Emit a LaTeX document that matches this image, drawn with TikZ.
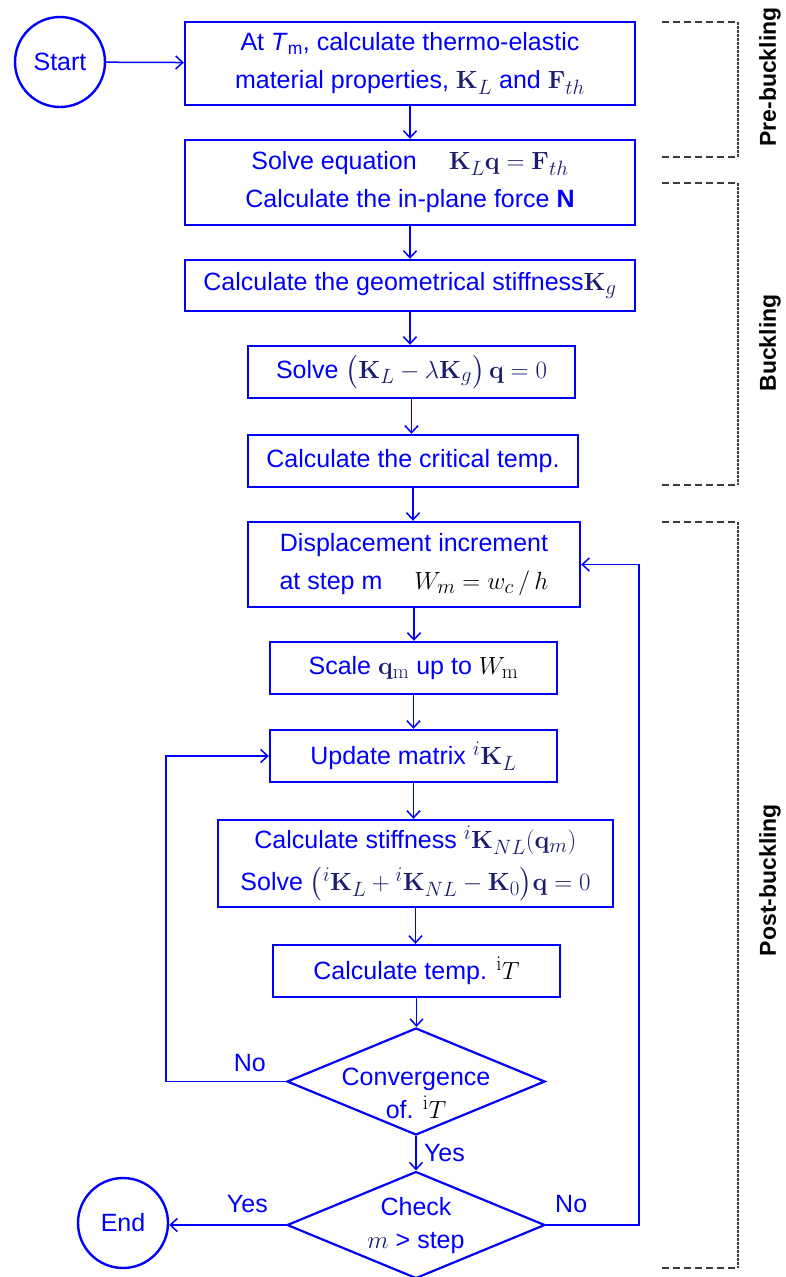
\documentclass[tikz,border=0pt]{standalone}
\usepackage{amsmath,amssymb}
\usepackage[no-math]{fontspec}
\setmainfont{Liberation Sans}
\usepackage{tikz}
\usetikzlibrary{arrows.meta, positioning, calc, shapes}
\usepackage{xcolor}
\definecolor{flowblue}{RGB}{0,0,250}
\definecolor{mathnavy}{RGB}{28,28,110}
\definecolor{phasegray}{RGB}{60,60,60}
% math pieces of the flowchart
\newcommand{\mK}{\mathbf{K}}
\newcommand{\eqn}[1]{{\fontsize{28}{38}\selectfont\textcolor{mathnavy}{$#1$}}}
\newcommand{\eqb}[1]{{\fontsize{28}{38}\selectfont\textcolor{black}{$#1$}}}
\newcommand{\dtext}[1]{\makebox[0pt]{\begin{tabular}{@{}c@{}}#1\end{tabular}}}

\begin{document}
\begin{tikzpicture}[x=1pt, y=-1pt, font=\fontsize{25}{38}\selectfont,
  box/.style={draw=flowblue, line width=2.4pt, text=flowblue, align=center, inner sep=0pt},
  term/.style={circle, draw=flowblue, line width=2.4pt, text=flowblue, minimum size=90pt, inner sep=0pt},
  decide/.style={diamond, draw=flowblue, line width=2.2pt, text=flowblue, minimum width=258pt, minimum height=107pt, inner sep=0pt, font=\fontsize{25}{33}\selectfont},
  flow/.style={draw=flowblue, line width=1.5pt, -{Straight Barb[length=7pt,width=13pt]}},
  ans/.style={text=flowblue},
  bar/.style={phasegray, line width=1.2pt, dash pattern=on 7pt off 4pt},
  spine/.style={phasegray, line width=1.4pt, dash pattern=on 2.5pt off 1.5pt},
  phase/.style={rotate=90, font=\fontsize{23}{23}\selectfont\bfseries}]
  \useasboundingbox (0,0) rectangle (786,1277);

  % terminals
  \node[term] (start) at (60,62) {Start};
  \node[term] (end) at (123,1223) {End};

  % process boxes
  \node[box, minimum width=450pt, minimum height=83pt] (init) at (410,63.5)
    {At \textit{T}\textsubscript{m}, calculate thermo-elastic\\material properties, \eqn{\mK_L} and \eqn{\mathbf{F}_{th}}};
  \node[box, minimum width=450pt, minimum height=85pt] (solve) at (410,182.5)
    {Solve equation \quad\eqn{\mK_L\mathbf{q}=\mathbf{F}_{th}}\\Calculate the in-plane force \textbf{N}};
  \node[box, minimum width=450pt, minimum height=51pt] (geom) at (410,285.5)
    {Calculate the geometrical stiffness\eqn{\mK_g}};
  \node[box, minimum width=327pt, minimum height=52pt] (eig) at (411.5,372)
    {Solve \eqn{\left(\mK_L-\lambda\mK_g\right)\mathbf{q}=0}};
  \node[box, minimum width=330pt, minimum height=52pt] (crit) at (413,461)
    {Calculate the critical temp.};
  \node[box, minimum width=332pt, minimum height=85pt] (disp) at (414,564.5)
    {Displacement increment\\at step m \quad\eqb{W_m = w_c\,/\,h}};
  \node[box, minimum width=287pt, minimum height=52pt] (scale) at (413.5,668)
    {Scale \eqn{\mathbf{q}_{\mathrm{m}}} up to \eqb{W_{\mathrm{m}}}};
  \node[box, minimum width=287pt, minimum height=52pt] (update) at (413.5,756)
    {Update matrix \eqn{{}^i\mK_L}};
  \node[box, minimum width=395pt, minimum height=87pt] (nonlin) at (415.5,863.5)
    {Calculate stiffness \eqn{{}^i\mK_{NL}(\mathbf{q}_m)}\\[4pt]Solve \eqn{\bigl({}^i\mK_L+{}^i\mK_{NL}-\mK_0\bigr)\mathbf{q}=0}};
  \node[box, minimum width=287pt, minimum height=52pt] (temp) at (416.5,971)
    {Calculate temp. \eqb{{}^{\mathrm{i}}T}};

  % decisions
  \node[decide] (conv) at (416,1081.5)
    {\raisebox{-20pt}[0pt][0pt]{\dtext{Convergence\\of. \eqb{{}^{\mathrm{i}}T}}}};
  \node[decide] (check) at (416,1225) {\dtext{Check\\\eqn{m} > step}};

  % main flow
  \draw[flow] (start) -- (init);
  \foreach \a/\b in {init/solve, solve/geom, geom/eig, eig/crit, crit/disp,
                     disp/scale, scale/update, update/nonlin, nonlin/temp, temp/conv}
    \draw[flow] (\a.south) -- (\a.south |- \b.north);
  \draw[flow] (conv.south) -- node[ans, right=4pt] {Yes} (conv.south |- check.north);

  % loops back
  \draw[flow] (conv.west) -- node[ans, pos=0.3, above=6pt] {No} ++(-120,0) |- (update.west);
  \draw[flow] (check.east) -- node[ans, pos=0.27, above=8pt] {No} ++(93,0) |- (disp.east);
  \draw[flow] (check.west) -- node[ans, pos=0.33, above=8pt] {Yes} (check.west -| end.east);

  % phase brackets
  \draw[bar] (662,22) -- (738,22);
  \draw[bar] (662,157) -- (738,157);
  \draw[spine] (738,22) -- (738,157);
  \draw[bar] (662,183) -- (738,183);
  \draw[bar] (662,485) -- (738,485);
  \draw[spine] (738,183) -- (738,485);
  \draw[bar] (662,522) -- (738,522);
  \draw[bar] (662,1268) -- (738,1268);
  \draw[spine] (738,522) -- (738,1268);
  \node[phase] (pre) at (770,77) {Pre-buckling};
  \node[phase] (buck) at (770,343) {Buckling};
  \node[phase] (post) at (770,880) {Post-buckling};
\end{tikzpicture}
\end{document}
